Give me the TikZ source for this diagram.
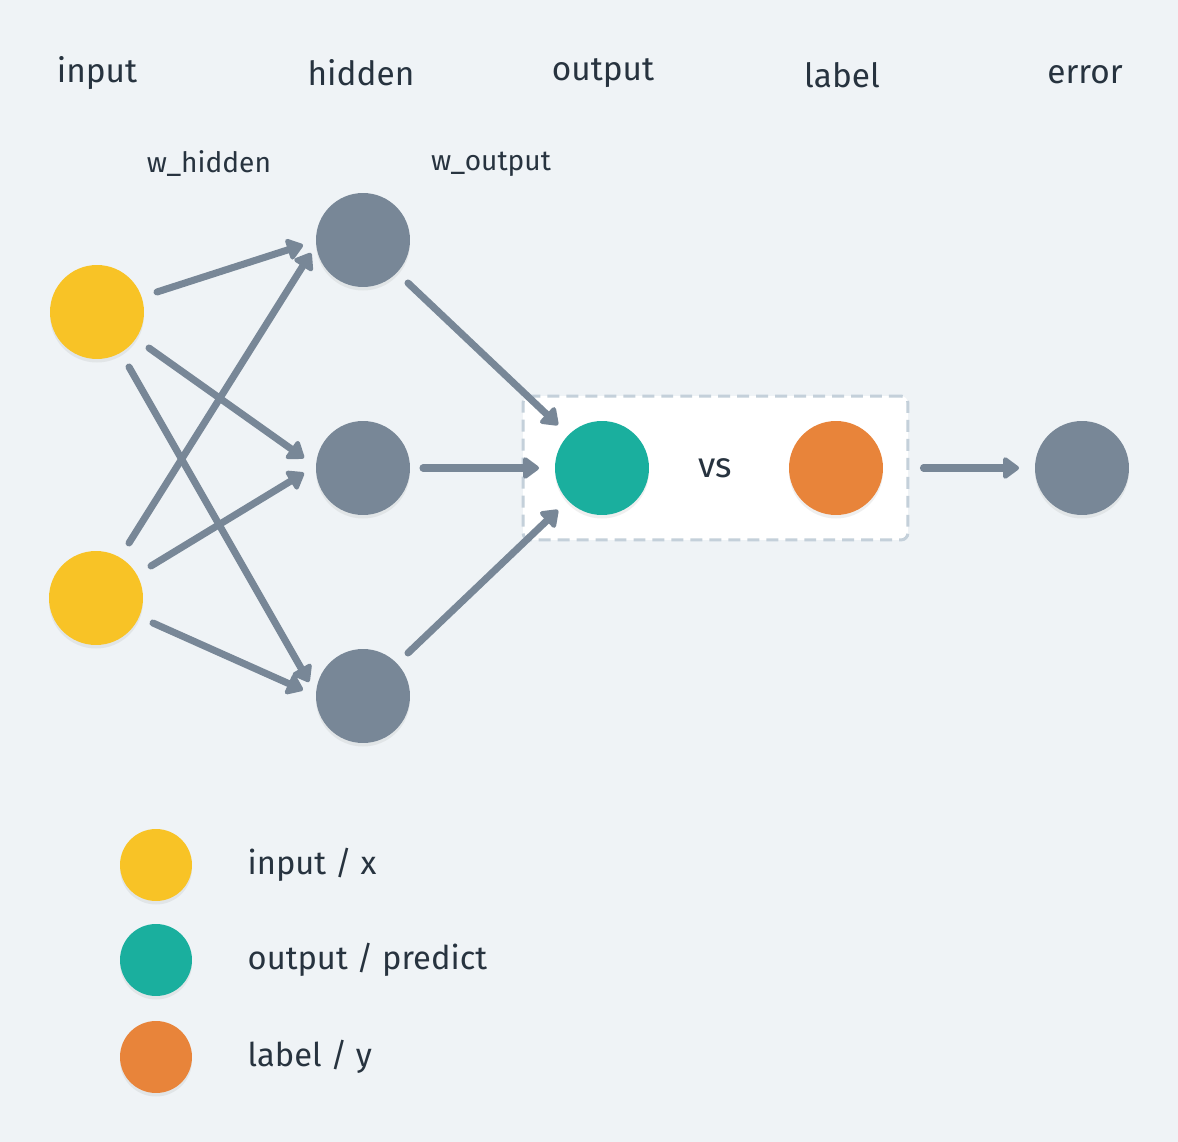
\documentclass[tikz,border=0pt]{standalone}
\usepackage{fontspec}
\setmainfont{Fira Sans}
\usetikzlibrary{arrows.meta,shadows,positioning}

\definecolor{bgcol}{HTML}{EFF3F6}
\definecolor{inkcol}{HTML}{27333F}
\definecolor{edgecol}{HTML}{788797}
\definecolor{boxcol}{HTML}{C4D0DA}
\definecolor{xcol}{HTML}{F8C326}
\definecolor{predcol}{HTML}{1AAF9E}
\definecolor{ycol}{HTML}{E8843A}
\definecolor{unitcol}{HTML}{788797}

\begin{document}
\begin{tikzpicture}[x=0.02cm,y=-0.02cm,
    unit node/.style={circle,inner sep=0pt,minimum size=1.88cm,
        drop shadow={shadow xshift=0pt,shadow yshift=-2pt,opacity=0.12}},
    key node/.style={unit node,minimum size=1.44cm},
    title node/.style={text=inkcol,font=\fontsize{19}{22}\selectfont},
    weight node/.style={text=inkcol,font=\fontsize{16}{19}\selectfont},
    key text/.style={text=inkcol,inner sep=0pt,font=\fontsize{18.6}{22}\selectfont},
    link/.style={-{Triangle[length=10pt,width=14pt,round]},edgecol,line width=4pt,line cap=round}]

    \fill[bgcol] (0,0) rectangle (1178,1142);

    % column titles
    \node[title node] (ti) at (97,73) {input};
    \node[title node] (th) at (361,73) {hidden};
    \node[title node] (to) at (603,73) {output};
    \node[title node] (tl) at (842,75) {label};
    \node[title node] (te) at (1085,75) {error};
    \node[weight node] (wh) at (209,164) {w\_hidden};
    \node[weight node] (wo) at (491,164) {w\_output};

    % compare box
    \node[draw=boxcol,fill=white,dashed,dash pattern=on 6.8pt off 4pt,line width=1.7pt,rounded corners=4pt,
        minimum width=7.7cm,minimum height=2.88cm,text=inkcol,font=\fontsize{20}{23}\selectfont] (cmp) at (715.5,468) {vs};

    % units
    \node[unit node,fill=xcol] (i1) at (97,312) {};
    \node[unit node,fill=xcol] (i2) at (96,598) {};
    \node[unit node,fill=unitcol] (h1) at (363,240) {};
    \node[unit node,fill=unitcol] (h2) at (363,468) {};
    \node[unit node,fill=unitcol] (h3) at (363,696) {};
    \node[unit node,fill=predcol] (out) at (602,468) {};
    \node[unit node,fill=ycol] (lbl) at (836,468) {};
    \node[unit node,fill=unitcol] (err) at (1082,468) {};

    \path[link]
        ([shift={(60,-20)}]i1.center) edge ([shift={(-60,5)}]h1.center)
        ([shift={(52,36)}]i1.center) edge ([shift={(-59,-10)}]h2.center)
        ([shift={(32,55)}]i1.center) edge ([shift={(-54,-14)}]h3.center)
        ([shift={(33,-55)}]i2.center) edge ([shift={(-52,13)}]h1.center)
        ([shift={(55,-32)}]i2.center) edge ([shift={(-59,5)}]h2.center)
        ([shift={(57,25)}]i2.center) edge ([shift={(-60,-6)}]h3.center)
        ([shift={(45,43)}]h1.center) edge ([shift={(-44,-43)}]out.center)
        ([shift={(60,0)}]h2.center) edge ([shift={(-63,0)}]out.center)
        ([shift={(45,-43)}]h3.center) edge ([shift={(-44,42)}]out.center)
        ([shift={(14,0)}]cmp.east) edge ([shift={(-63,0)}]err.center)
        ;

    % legend
    \node[key node,fill=xcol] (kx) at (156,865) {};
    \node[key node,fill=predcol] (kp) at (156,960) {};
    \node[key node,fill=ycol] (ky) at (156,1057) {};
    \node[key text,right=1.1cm of kx] (kxt) {input / x};
    \node[key text,right=1.1cm of kp] (kpt) {output / predict};
    \node[key text,right=1.1cm of ky] (kyt) {label / y};
\end{tikzpicture}
\end{document}
